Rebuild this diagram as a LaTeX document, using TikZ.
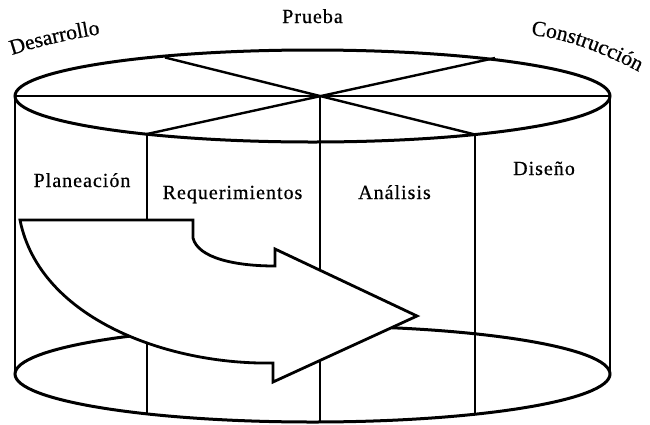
\documentclass[tikz,border=0pt]{standalone}
\usepackage{fontspec}
\setmainfont{Liberation Serif}[LetterSpace=5.0, FakeBold=0.6]
\usetikzlibrary{decorations.text}
\newcommand{\lblfont}{\fontsize{20}{24}\selectfont}
\newcommand{\rimfont}{\fontsize{21.5}{26}\selectfont}
\begin{document}
\begin{tikzpicture}[x=1pt,y=-1pt,
  rim/.style={line width=3pt},
  wall/.style={line width=2.4pt},
  phase/.style={font=\lblfont, anchor=base, inner sep=0pt},
  flow/.style={line width=2.8pt, fill=white, line join=miter},
  rimlabel/.style={decorate, decoration={text along path,
    text align=left, text={|\rimfont|#1}}}]
\fill[white] (0,0) rectangle (650,424);
\useasboundingbox (0,0) rectangle (650,424);

% key points of the cylinder
\coordinate (tl) at (15,96);
\coordinate (tr) at (610,96);
\coordinate (hub) at (320,96);
\coordinate (bl) at (15,374);
\coordinate (br) at (610,374);
\coordinate (s1t) at (147,134);
\coordinate (s1b) at (147,414);
\coordinate (s2b) at (320,422);
\coordinate (s3t) at (475,134.5);
\coordinate (s3b) at (475,414);
\coordinate (d1) at (495,58);
\coordinate (d2) at (165,57.5);

% base of the cylinder
\draw[rim] (312.5,374) ellipse [x radius=297.5, y radius=48];

% walls and sector dividers
\draw[wall] (tl) -- (bl);
\draw[wall] (tr) -- (br);
\draw[wall] (s1t) -- (s1b);
\draw[wall] (hub) -- (s2b);
\draw[wall] (s3t) -- (s3b);

% top of the cylinder with its sectors
\draw[rim] (312.5,96) ellipse [x radius=297.5, y radius=46];
\draw[wall] (tl) -- (tr);
\draw[wall] (s1t) -- (d1);
\draw[wall] (s3t) -- (d2);

% curved flow arrow in front
\draw[flow] (20,220) -- (193,220) -- (193,238)
  .. controls (198,258) and (235,266) .. (275,266)
  -- (275,249) -- (417,316) -- (273,382) -- (273,363)
  .. controls (170,365) and (40,320) .. (20,220) -- cycle;

% phase labels
\node[phase] (plan) at (82,187) {Planeación};
\node[phase] (req) at (232.5,199) {Requerimientos};
\node[phase] (ana) at (394.5,199) {Análisis};
\node[phase] (dis) at (544,175) {Diseño};
\node[phase] (prueba) at (312.5,23) {Prueba};

% labels following the rim
\path[rimlabel=Desarrollo]
  (12,55) .. controls (40,46) and (75,37) .. (130,30);
\path[rimlabel=Construcción]
  (531,35) .. controls (568,39) and (605,52) .. (665,86);
\end{tikzpicture}
\end{document}
